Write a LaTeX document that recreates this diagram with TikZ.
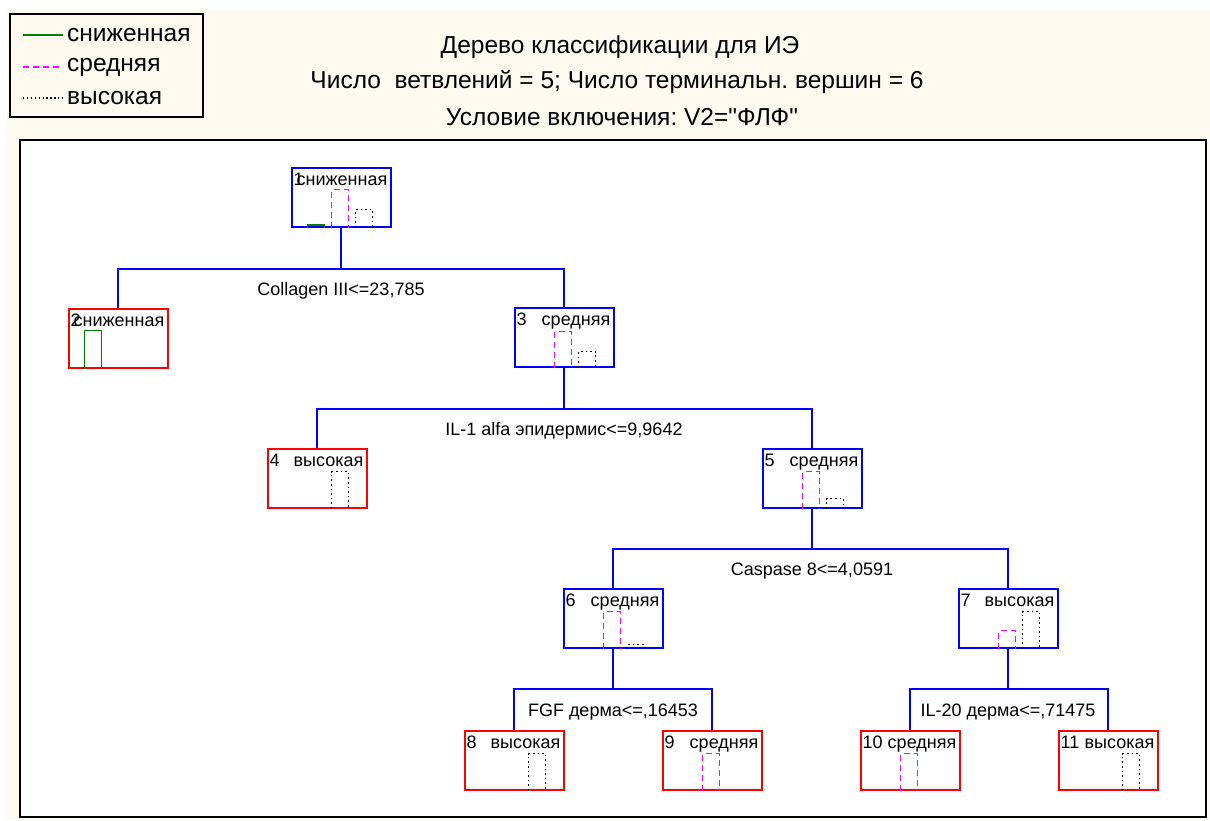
\documentclass[tikz,border=0pt]{standalone}
\usepackage{fontspec}
\setmainfont{Liberation Sans}
\usetikzlibrary{positioning}
\definecolor{cream}{HTML}{FFFAF0}
\definecolor{lowgreen}{HTML}{008000}
\definecolor{midpink}{HTML}{FF00FF}
\frenchspacing

% class histogram inside a node: #1 node, #2/#3/#4 bar heights
\newcommand\hist[4]{%
  \ifdim#2pt>0pt \draw[lowbar] ([xshift=17pt]#1.south west) -- ++(0,-#2) -- ++(17,0) -- ++(0,#2);\fi
  \ifdim#3pt>0pt \draw[midbar] ([xshift=41pt]#1.south west) -- ++(0,-#3) -- ++(17,0) -- ++(0,#3);\fi
  \ifdim#4pt>0pt \draw[highbar] ([xshift=65pt]#1.south west) -- ++(0,-#4) -- ++(17,0) -- ++(0,#4);\fi}
% number and class name in a node
\newcommand\ntext[3]{%
  \node[anchor=base west] (#1num) at ([xshift=3pt,yshift=-19pt]#1.north west) {#2};
  \node[anchor=base east] (#1cls) at ([xshift=-4pt,yshift=-19pt]#1.north east) {#3};}

\begin{document}
\begin{tikzpicture}[x=1pt,y=-1pt, every node/.style={font=\fontsize{18}{21}\selectfont,inner sep=0pt}]
\tikzstyle{split}=[draw=blue,line width=2pt,fill=white,minimum width=99pt,minimum height=59pt]
\tikzstyle{leaf}=[split,draw=red]
\tikzstyle{link}=[draw=blue,line width=2pt]
\tikzstyle{rule}=[fill=white]
\tikzstyle{lowbar}=[lowgreen,line width=1.6pt]
\tikzstyle{midbar}=[midpink,line width=1.6pt,dash pattern=on 6pt off 4pt]
\tikzstyle{highbar}=[black,line width=1.6pt,dash pattern=on 1.6pt off 3pt]
\tikzstyle{big}=[font=\fontsize{24.5}{28}\selectfont]
\useasboundingbox (0,0) rectangle (1210,820);
\fill[cream] (7,10) rectangle (1210,820);
\draw[line width=2pt,fill=white] (20,140) rectangle (1206,817);

% legend
\node[draw,line width=2.8pt,fill=cream,minimum width=193pt,minimum height=103pt] (legend) at (106.5,65.5) {};
\draw[lowbar,line width=1.4pt] (23,35) -- (63,35);
\draw[midbar,line width=1.4pt] (23,67) -- (63,67);
\draw[highbar,line width=1.3pt,dash pattern=on 1.3pt off 2.6pt] (23,98) -- (63,98);
\node[big,anchor=west] (legLow) at (67,35) {сниженная};
\node[big,anchor=west] (legMid) at (67,67) {средняя};
\node[big,anchor=west] (legHigh) at (67,98) {высокая};

% title
\node[big] (title) at (620,47) {Дерево классификации для ИЭ};
\node[big] (count) at (617,82) {Число\ \ ветвлений = 5; Число терминальн. вершин = 6};
\node[big] (cond) at (622,117) {Условие включения: V2=\textquotedbl ФЛФ\textquotedbl};

% tree
\node[split] (n1) at (341,197) {};
\node[leaf] (n2) at (118,338) {};
\node[split] (n3) at (564,337) {};
\node[leaf] (n4) at (317,478) {};
\node[split] (n5) at (812,478) {};
\node[split] (n6) at (613,618) {};
\node[split] (n7) at (1008,618) {};
\node[leaf] (n8) at (514,760) {};
\node[leaf] (n9) at (712,760) {};
\node[leaf] (n10) at (910,760) {};
\node[leaf] (n11) at (1108,760) {};

\coordinate (s1) at ([yshift=-41pt]n1.south);
\coordinate (s3) at ([yshift=-41pt]n3.south);
\coordinate (s5) at ([yshift=-40pt]n5.south);
\coordinate (s6) at ([yshift=-40pt]n6.south);
\coordinate (s7) at ([yshift=-40pt]n7.south);
\draw[link] (n1) -- (s1) -| (n2);
\draw[link] (s1) -| (n3);
\draw[link] (n3) -- (s3) -| (n4);
\draw[link] (s3) -| (n5);
\draw[link] (n5) -- (s5) -| (n6);
\draw[link] (s5) -| (n7);
\draw[link] (n6) -- (s6) -| (n8);
\draw[link] (s6) -| (n9);
\draw[link] (n7) -- (s7) -| (n10);
\draw[link] (s7) -| (n11);

\node[rule] (r1) at ([yshift=-22pt]s1) {Collagen III<=23,785};
\node[rule] (r3) at ([yshift=-22pt]s3) {IL-1 alfa эпидермис<=9,9642};
\node[rule] (r5) at ([yshift=-23pt]s5) {Caspase 8<=4,0591};
\node[rule] (r6) at ([yshift=-24pt]s6) {FGF дерма<=,16453};
\node[rule] (r7) at ([yshift=-24pt]s7) {IL-20 дерма<=,71475};

\ntext{n1}{1}{сниженная}
\ntext{n2}{2}{сниженная}
\ntext{n3}{3}{средняя}
\ntext{n4}{4}{высокая}
\ntext{n5}{5}{средняя}
\ntext{n6}{6}{средняя}
\ntext{n7}{7}{высокая}
\ntext{n8}{8}{высокая}
\ntext{n9}{9}{средняя}
\ntext{n10}{10}{средняя}
\ntext{n11}{11}{высокая}

\hist{n1}{2.5}{38}{18}
\hist{n2}{38}{0}{0}
\hist{n3}{0}{36}{16}
\hist{n4}{0}{0}{37}
\hist{n5}{0}{37}{10}
\hist{n6}{0}{37}{4}
\hist{n7}{0}{18}{37}
\hist{n8}{0}{0}{37}
\hist{n9}{0}{37}{0}
\hist{n10}{0}{37}{0}
\hist{n11}{0}{0}{37}
\end{tikzpicture}
\end{document}
